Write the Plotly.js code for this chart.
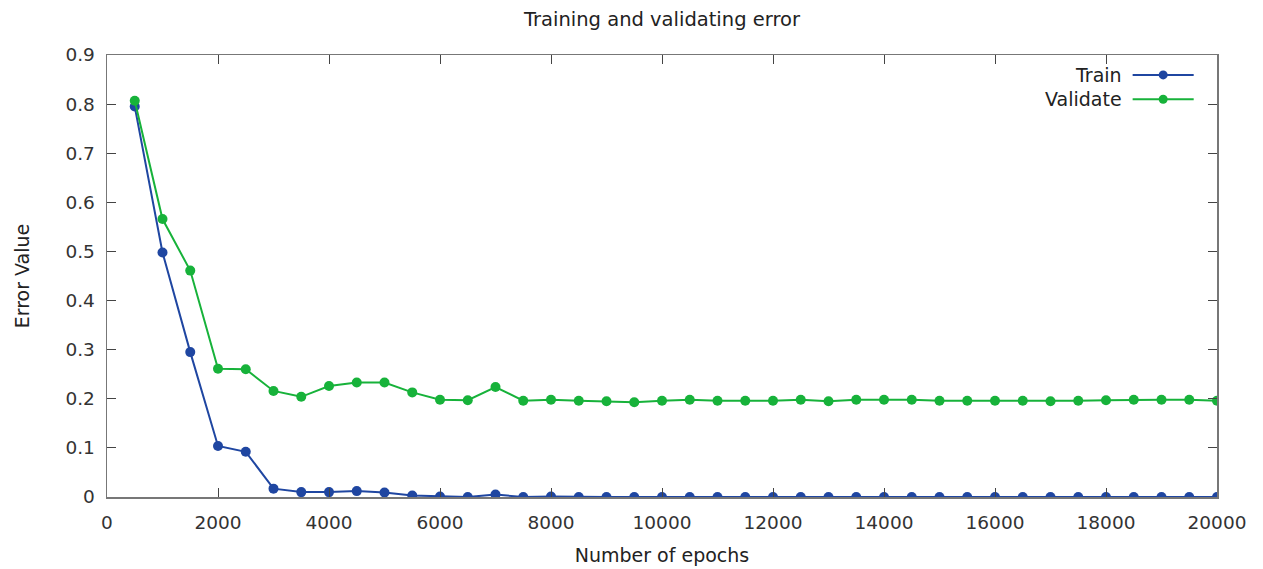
<!DOCTYPE html>
<html>
<head>
<meta charset="utf-8">
<script src="https://cdn.plot.ly/plotly-3.0.1.min.js"></script>
<style>html,body{margin:0;padding:0;background:#fff;}#chart{width:1263px;height:569px;}</style>
</head>
<body>
<div id="chart"></div>
<script>
const epochs = [500,1000,1500,2000,2500,3000,3500,4000,4500,5000,5500,6000,6500,7000,7500,8000,8500,9000,9500,10000,10500,11000,11500,12000,12500,13000,13500,14000,14500,15000,15500,16000,16500,17000,17500,18000,18500,19000,19500,20000];
const trainErr = [0.795,0.498,0.295,0.104,0.092,0.017,0.010,0.010,0.012,0.009,0.003,0.001,0.000,0.005,0.000,0.001,0.000,0.000,0.000,0.000,0.000,0.000,0.000,0.000,0.000,0.000,0.000,0.000,0.000,0.000,0.000,0.000,0.000,0.000,0.000,0.000,0.000,0.000,0.000,0.000];
const validErr = [0.807,0.566,0.461,0.261,0.260,0.216,0.204,0.226,0.233,0.233,0.213,0.198,0.197,0.224,0.196,0.198,0.196,0.195,0.193,0.196,0.198,0.196,0.196,0.196,0.198,0.195,0.198,0.198,0.198,0.196,0.196,0.196,0.196,0.195,0.196,0.197,0.198,0.198,0.198,0.196];
const seriesNames = ["Train","Validate"];
const colors = ["#1f46a1","#17b23a"];

const font = "DejaVu Sans, sans-serif";
const traces = [trainErr, validErr].map((ys,i)=>({
  x: epochs, y: ys, name: seriesNames[i], type:'scatter', mode:'lines+markers',
  line:{color:colors[i], width:2}, marker:{color:colors[i], size:10}, showlegend:false
}));

// custom legend (text right-aligned, sample on the right, like gnuplot)
const legY = [0.955, 0.9];
const annotations = seriesNames.map((n,i)=>({
  xref:'paper', yref:'paper', x:0.9165, y:legY[i], xanchor:'right', yanchor:'middle',
  text:n, showarrow:false, font:{family:font, size:19, color:'#222'}
}));
const shapes = [];
seriesNames.forEach((n,i)=>{
  shapes.push({type:'line', xref:'paper', yref:'paper', x0:0.924, x1:0.979, y0:legY[i], y1:legY[i], line:{color:colors[i], width:2}});
});
const legTraces = seriesNames.map((n,i)=>({
  x:[0.9515], y:[legY[i]], xaxis:'x2', yaxis:'y2', type:'scatter', mode:'markers',
  marker:{color:colors[i], size:9}, showlegend:false, hoverinfo:'skip'
}));

const layout = {
  width:1263, height:569,
  margin:{l:107, r:46, t:55, b:72},
  paper_bgcolor:'#fff', plot_bgcolor:'#fff',
  title:{text:'Training and validating error', font:{family:font, size:19.5, color:'#222'}, xref:'paper', x:0.5, xanchor:'center', y:0.967, yanchor:'middle'},
  font:{family:font, size:18.5, color:'#333'},
  xaxis:{
    range:[0,20000], dtick:2000, tick0:0, tickformat:'d', showgrid:false, zeroline:false,
    ticks:'inside', ticklen:9, tickcolor:'#444', tickwidth:1,
    showline:true, linecolor:'#777', linewidth:1.5, mirror:'ticks',
    tickfont:{family:font, size:18.5, color:'#333'}, ticklabelstandoff:8,
    title:{text:'Number of epochs', font:{family:font, size:19, color:'#222'}, standoff:17}
  },
  yaxis:{
    range:[0,0.9], dtick:0.1, tick0:0, showgrid:false, zeroline:false,
    ticks:'inside', ticklen:9, tickcolor:'#444', tickwidth:1,
    showline:true, linecolor:'#777', linewidth:1.5, mirror:'ticks',
    tickfont:{family:font, size:18.5, color:'#333'}, ticklabelstandoff:7,
    title:{text:'Error Value', font:{family:font, size:19, color:'#222'}, standoff:30}
  },
  xaxis2:{domain:[0,1], range:[0,1], overlaying:'x', visible:false, anchor:'y2'},
  yaxis2:{domain:[0,1], range:[0,1], overlaying:'y', visible:false, anchor:'x2'},
  annotations, shapes
};
Plotly.newPlot('chart', traces.concat(legTraces), layout, {displayModeBar:false, staticPlot:true});
</script>
</body>
</html>
